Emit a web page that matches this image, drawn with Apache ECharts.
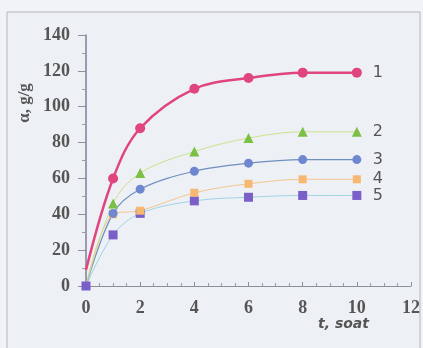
<!DOCTYPE html>
<html>
<head>
<meta charset="utf-8">
<script src="https://cdn.jsdelivr.net/npm/echarts@6/dist/echarts.min.js"></script>
<style>
html, body { margin: 0; padding: 0; background: #f2f3f6; }
#chart { width: 423px; height: 348px; }
</style>
</head>
<body>
<div id="chart"></div>
<script>
let hours = [0, 1, 2, 4, 6, 8, 10];
let curve1 = [9, 60, 88, 110, 116, 119, 119];
let curve2 = [0, 46, 63, 75, 82.5, 86, 86];
let curve3 = [0, 40.5, 54, 64, 68.5, 70.5, 70.5];
let curve4 = [0, 40, 42, 52, 57, 59.5, 59.5];
let curve5 = [0, 28.5, 40.5, 47.5, 49.5, 50.5, 50.5];
let curveNames = ['1', '2', '3', '4', '5'];

// start point has no marker except on curve 5
function pairs(vals, markStart) {
    return hours.map(function(t, i) {
        if (i === 0 && !markStart) {
            return { value: [t, vals[i]], symbol: 'none' };
        }
        return [t, vals[i]];
    });
}

let myChart = echarts.init(document.getElementById('chart'));

function makeSeries(name, vals, sym, symSize, color, lineColor, width, markStart) {
    return {
        name: name,
        type: 'line',
        smooth: 0.35,
        data: pairs(vals, markStart),
        symbol: sym,
        symbolSize: symSize,
        itemStyle: { color: color },
        lineStyle: { color: lineColor, width: width },
        endLabel: {
            show: true,
            formatter: name,
            distance: 16,
            color: '#555',
            fontFamily: 'DejaVu Sans',
            fontSize: 16
        }
    };
}

let option = {
    backgroundColor: '#f2f3f6',
    animation: false,
    grid: {
        left: 86,
        right: 12,
        top: 35,
        bottom: 62,
        containLabel: false,
        outerBoundsMode: 'none'
    },
    // frame and the two axis titles
    graphic: [{
        type: 'rect',
        z: -10,
        shape: { x: 7, y: 12, width: 413, height: 340 },
        style: { fill: '#edf0f5', stroke: '#b4b6bb', lineWidth: 1 }
    }, {
        type: 'text',
        x: 25,
        y: 103,
        rotation: Math.PI / 2,
        style: {
            text: 'α, g/g',
            font: 'bold 17px "Liberation Serif"',
            fill: '#555',
            align: 'center',
            verticalAlign: 'middle'
        }
    }, {
        type: 'text',
        x: 318,
        y: 317,
        style: {
            text: 't, soat',
            font: 'italic bold 14px "DejaVu Sans"',
            fill: '#555',
            align: 'left',
            verticalAlign: 'top'
        }
    }],
    xAxis: {
        type: 'value',
        min: 0,
        max: 12,
        interval: 2,
        axisLine: { lineStyle: { color: '#8c8f99', width: 1 } },
        axisTick: { show: true, inside: true, length: 4, lineStyle: { color: '#8c8f99' } },
        minorTick: { show: true, splitNumber: 4, length: 3, lineStyle: { color: '#9a9da6' } },
        splitLine: { show: false },
        axisLabel: {
            margin: 13,
            fontFamily: 'Liberation Serif',
            fontWeight: 'bold',
            fontSize: 18,
            color: '#555'
        }
    },
    yAxis: {
        type: 'value',
        min: 0,
        max: 140,
        interval: 20,
        axisLine: { show: true, lineStyle: { color: '#7d7f9a', width: 1.5 } },
        axisTick: { show: true, length: 8, lineStyle: { color: '#8c8f99' } },
        minorTick: { show: true, splitNumber: 2, length: 4, lineStyle: { color: '#9a9da6' } },
        splitLine: { show: false },
        axisLabel: {
            margin: 16,
            fontFamily: 'Liberation Serif',
            fontWeight: 'bold',
            fontSize: 18,
            color: '#555'
        }
    },
    series: [
        makeSeries(curveNames[4], curve5, 'rect', 9, '#7b5fc8', '#9fd3e6', 1, true),
        makeSeries(curveNames[3], curve4, 'rect', 8, '#f6b870', '#f6c58e', 1, false),
        makeSeries(curveNames[2], curve3, 'circle', 9, '#6f86d0', '#6e8fbf', 1.2, false),
        makeSeries(curveNames[1], curve2, 'triangle', 10, '#7cbf45', '#cfe08a', 1, false),
        makeSeries(curveNames[0], curve1, 'circle', 10, '#e0457d', '#e0457d', 2.5, false)
    ]
};

myChart.setOption(option);
</script>
</body>
</html>
